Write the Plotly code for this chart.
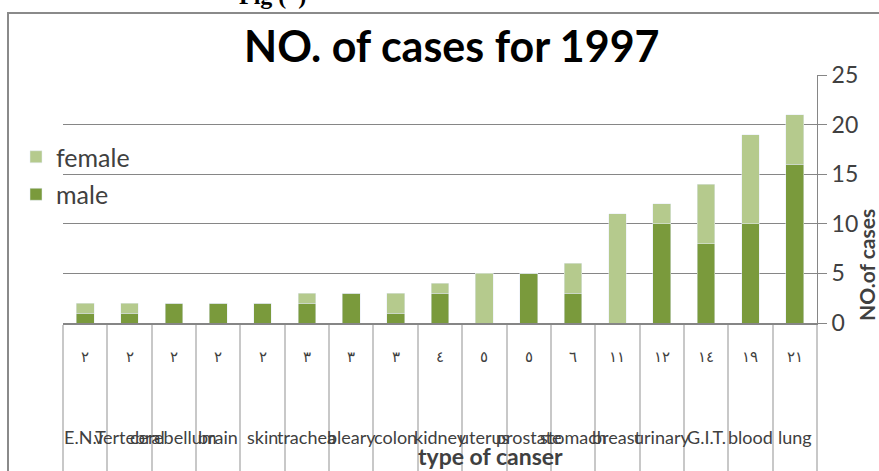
import plotly.graph_objects as go

categories = ["E.N.T", "vertebral", "cerebellum", "brain", "skin", "trachea", "bleary",
              "colon", "kidney", "uterus", "prostate", "stomach", "breast", "urinary",
              "G.I.T.", "blood", "lung"]
male = [1, 1, 2, 2, 2, 2, 3, 1, 3, 0, 5, 3, 0, 10, 8, 10, 16]
female = [1, 1, 0, 0, 0, 1, 0, 2, 1, 5, 0, 3, 11, 2, 6, 9, 5]
total_labels = ["٢", "٢", "٢", "٢", "٢", "٣", "٣", "٣", "٤", "٥", "٥", "٦",
                "١١", "١٢", "١٤", "١٩", "٢١"]
y_ticks = [0, 5, 10, 15, 20, 25]

W, H = 879, 471
L, R, T, B = 63, 62, 75, 148
ph = H - T - B

def py(p):
    return (H - B - p) / ph

def px(p):
    return (p - L) / (W - L - R)

MALE_C = "#7a9a3c"
FEMALE_C = "#b5ca8d"
TXT = "#404040"
FONT = "Lato, 'Open Sans', sans-serif"

fig = go.Figure()
fig.add_trace(go.Bar(x=categories, y=male, name="male", marker_color=MALE_C,
                     legendgroup="m", legendrank=2))
fig.add_trace(go.Bar(x=categories, y=female, name="female", marker_color=FEMALE_C,
                     legendgroup="f", legendrank=1))

annotations = []
for c, t in zip(categories, total_labels):
    annotations.append(dict(x=c, y=py(357), xref="x", yref="paper", text=t,
                            showarrow=False, font=dict(size=15, color=TXT,
                            family="'DejaVu Sans', sans-serif"),
                            xanchor="center", yanchor="middle"))
    annotations.append(dict(x=c, y=py(437), xref="x", yref="paper", text=c,
                            showarrow=False, font=dict(size=18, color=TXT, family=FONT),
                            xanchor="center", yanchor="middle"))

annotations.append(dict(x=px(490), y=py(456), xref="paper", yref="paper",
                        text="<b>type of canser</b>", showarrow=False,
                        font=dict(size=23, color=TXT, family=FONT),
                        xanchor="center", yanchor="middle"))
annotations.append(dict(x=px(866), y=py(265), xref="paper", yref="paper",
                        text="<b>NO.of cases</b>", showarrow=False, textangle=-90,
                        font=dict(size=21, color=TXT, family=FONT),
                        xanchor="center", yanchor="middle"))
annotations.append(dict(x=px(452), y=py(45), xref="paper", yref="paper",
                        text="<b>NO. of cases for 1997</b>", showarrow=False,
                        font=dict(size=43, color="#000000", family=FONT),
                        xanchor="center", yanchor="middle"))
annotations.append(dict(x=px(272), y=py(-4), xref="paper", yref="paper",
                        text="<b>Fig (  )</b>", showarrow=False,
                        font=dict(size=24, color="#000000", family="'Liberation Serif', serif"),
                        xanchor="center", yanchor="middle"))

shapes = [dict(type="rect", xref="paper", yref="paper",
               x0=px(8), x1=px(900), y0=py(520), y1=py(13),
               line=dict(color="#8a8a8a", width=2), fillcolor="rgba(0,0,0,0)",
               layer="below")]

fig.update_layout(
    width=W, height=H,
    margin=dict(l=L, r=R, t=T, b=B, pad=0),
    paper_bgcolor="white", plot_bgcolor="white",
    barmode="stack", bargap=0.6,
    annotations=annotations, shapes=shapes,
    showlegend=True,
    legend=dict(x=px(16), y=py(134), xanchor="left", yanchor="top",
                traceorder="grouped", tracegroupgap=2,
                font=dict(size=25, color=TXT, family=FONT),
                bgcolor="rgba(0,0,0,0)", itemwidth=30),
    xaxis=dict(type="category", showticklabels=False, ticks="outside",
               tickson="boundaries", ticklen=150, tickcolor="#c8c8c8", tickwidth=1.5,
               showline=True, linecolor="#868686", linewidth=1.5,
               showgrid=False, zeroline=False, automargin=False,
               range=[-0.5, len(categories) - 0.5]),
    yaxis=dict(side="right", range=[0, 25], tickvals=y_ticks,
               showgrid=True, gridcolor="#868686", gridwidth=1,
               showline=True, linecolor="#868686", linewidth=1,
               ticks="outside", ticklen=9, tickcolor="#868686",
               tickfont=dict(size=23, color=TXT, family=FONT),
               zeroline=False, automargin=False),
    font=dict(family=FONT, color=TXT),
)

fig.write_html("out.html", config={"displayModeBar": False},
               post_script="document.body.style.margin='0';")
